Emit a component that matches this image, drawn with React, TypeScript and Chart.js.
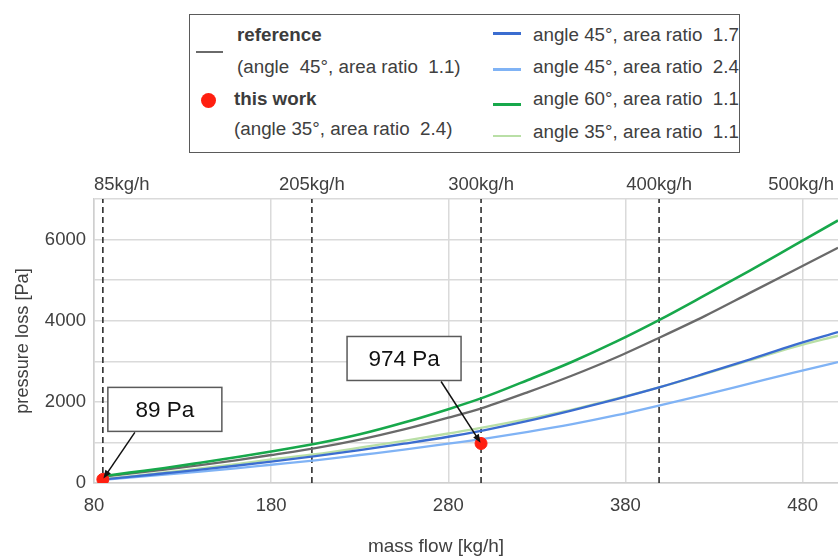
import React, { useEffect, useRef } from 'react';
import { Chart, registerables } from 'chart.js';

Chart.register(...registerables);

// ---------- data ----------
const massFlow = [85, 100, 120, 140, 160, 180, 205, 230, 255, 280, 300, 325, 350, 375, 400, 425, 450, 475, 500];
const referenceLoss = [160, 230, 330, 440, 560, 690, 860, 1070, 1320, 1610, 1860, 2240, 2650, 3100, 3600, 4120, 4680, 5240, 5800];
const angle45ar17 = [85, 150, 240, 330, 425, 525, 660, 810, 970, 1140, 1300, 1530, 1790, 2070, 2370, 2700, 3040, 3400, 3720];
const angle45ar24 = [75, 130, 205, 280, 360, 450, 560, 690, 820, 970, 1090, 1260, 1450, 1670, 1920, 2180, 2450, 2720, 2980];
const angle60ar11 = [165, 255, 370, 500, 635, 775, 965, 1200, 1490, 1820, 2110, 2540, 2990, 3490, 4040, 4630, 5230, 5850, 6470];
const angle35ar11 = [100, 165, 262, 360, 465, 580, 710, 870, 1040, 1220, 1370, 1580, 1810, 2080, 2370, 2690, 3020, 3350, 3630];

const thisWorkFlow = [85, 298.5];
const thisWorkLoss = [89, 974];
const calloutTexts = ['89 Pa', '974 Pa'];

const markerFlows = [85, 203, 298.5, 399];
const topLabelFlows = [85, 203, 298.5, 399, 500];
const topLabels = ['85kg/h', '205kg/h', '300kg/h', '400kg/h', '500kg/h'];

const xTickValues = [80, 180, 280, 380, 480];
const yLabelStep = 2000;

const FONT = "'Liberation Sans', Arial, sans-serif";
const TEXT = '#404040';

const pts = (xs: number[], ys: number[]) => xs.map((x, i) => ({ x, y: ys[i] }));

const overlayPlugin = {
  id: 'overlay',
  afterDatasetsDraw(chart: any) {
    const { ctx, chartArea, scales } = chart;
    const xs = scales.x;
    const ys = scales.y;
    ctx.save();
    // top labels
    ctx.font = `18.5px ${FONT}`;
    ctx.fillStyle = TEXT;
    ctx.textBaseline = 'middle';
    topLabelFlows.forEach((v, i) => {
      const t = topLabels[i];
      const w = ctx.measureText(t).width;
      let x = xs.getPixelForValue(v);
      const maxR = chart.width - 4;
      if (x - w / 2 < chartArea.left) {
        ctx.textAlign = 'left';
        x = chartArea.left;
      } else if (x + w / 2 > maxR) {
        ctx.textAlign = 'right';
        x = maxR;
      } else {
        ctx.textAlign = 'center';
      }
      ctx.fillText(t, x, chartArea.top - 14);
    });
    // callouts
    const cfg = [
      { dx: 5, dy: -92, w: 114, h: 44, ax: 32 },
      { dx: -134, dy: -107, w: 114, h: 44, ax: -40 },
    ];
    thisWorkFlow.forEach((v, i) => {
      const px = xs.getPixelForValue(v);
      const py = ys.getPixelForValue(thisWorkLoss[i]);
      const c = cfg[i];
      const bx = px + c.dx;
      const by = py + c.dy;
      ctx.fillStyle = '#ffffff';
      ctx.fillRect(bx, by, c.w, c.h);
      ctx.strokeStyle = '#5a5a5a';
      ctx.lineWidth = 1.5;
      ctx.strokeRect(bx, by, c.w, c.h);
      ctx.fillStyle = '#111111';
      ctx.font = `22.5px ${FONT}`;
      ctx.textAlign = 'center';
      ctx.textBaseline = 'middle';
      ctx.fillText(calloutTexts[i], bx + c.w / 2, by + c.h / 2 + 1);
      // arrow
      const sx = px + c.ax;
      const sy = by + c.h + 1;
      const ang = Math.atan2(py - sy, px - sx);
      const tx = px - Math.cos(ang) * 1;
      const ty = py - Math.sin(ang) * 1;
      ctx.strokeStyle = '#111111';
      ctx.lineWidth = 1.5;
      ctx.beginPath();
      ctx.moveTo(sx, sy);
      ctx.lineTo(tx - Math.cos(ang) * 6, ty - Math.sin(ang) * 6);
      ctx.stroke();
      const hl = 9;
      const hw = 0.38;
      ctx.fillStyle = '#111111';
      ctx.beginPath();
      ctx.moveTo(tx, ty);
      ctx.lineTo(tx - hl * Math.cos(ang - hw), ty - hl * Math.sin(ang - hw));
      ctx.lineTo(tx - hl * Math.cos(ang + hw), ty - hl * Math.sin(ang + hw));
      ctx.closePath();
      ctx.fill();
    });
    ctx.restore();
  },
};

function ChartView() {
  const ref = useRef<HTMLCanvasElement | null>(null);
  useEffect(() => {
    if (!ref.current) return;
    const line = (label: string, data: number[], color: string, width: number, order: number) => ({
      type: 'line' as const,
      label,
      data: pts(massFlow, data),
      borderColor: color,
      backgroundColor: color,
      borderWidth: width,
      pointRadius: 0,
      cubicInterpolationMode: 'monotone' as const,
      fill: false,
      order,
    });
    const markers = markerFlows.map((v) => ({
      type: 'line' as const,
      label: 'marker',
      data: [{ x: v, y: 0 }, { x: v, y: 7000 }],
      borderColor: '#2e2e2e',
      borderWidth: 1.6,
      borderDash: [6, 4],
      pointRadius: 0,
      fill: false,
      order: 10,
    }));
    const chart = new Chart(ref.current, {
      type: 'line',
      data: {
        datasets: [
          {
            type: 'scatter' as const,
            label: 'this work',
            data: pts(thisWorkFlow, thisWorkLoss),
            backgroundColor: '#ff1f10',
            borderColor: '#ff1f10',
            pointRadius: 6,
            showLine: false,
            order: 0,
          } as any,
          line('angle 60°, area ratio 1.1', angle60ar11, '#17a84b', 2.6, 1),
          line('reference', referenceLoss, '#6a6a6a', 2.3, 2),
          line('angle 45°, area ratio 1.7', angle45ar17, '#3b6dd0', 2.3, 3),
          line('angle 35°, area ratio 1.1', angle35ar11, '#b9dfa6', 2.3, 4),
          line('angle 45°, area ratio 2.4', angle45ar24, '#80b3f5', 2.3, 5),
          ...markers,
        ],
      },
      options: {
        responsive: false,
        animation: false,
        devicePixelRatio: 1,
        layout: { autoPadding: false, padding: { top: 199, right: 0, left: 0, bottom: 0 } },
        plugins: { legend: { display: false }, tooltip: { enabled: false } },
        scales: {
          x: {
            type: 'linear',
            min: 80,
            max: 500,
            afterBuildTicks: (s: any) => {
              s.ticks = xTickValues.map((v) => ({ value: v }));
            },
            afterFit: (s: any) => {
              s.height = 74;
              s.paddingRight = 0;
              s.paddingLeft = 0;
            },
            grid: { color: '#dadada', lineWidth: 1.5, drawTicks: false },
            border: { color: '#cfcfcf', width: 1.5 },
            ticks: {
              font: { family: FONT, size: 18.5 },
              color: TEXT,
              padding: 12,
              maxRotation: 0,
              autoSkip: false,
              callback: (v: any) => String(v),
            },
          },
          y: {
            type: 'linear',
            min: 0,
            max: 7000,
            afterFit: (s: any) => {
              s.width = 94;
            },
            grid: { color: '#dadada', lineWidth: 1.5, drawTicks: false },
            border: { color: '#cfcfcf', width: 1.5 },
            ticks: {
              stepSize: 1000,
              font: { family: FONT, size: 18.5 },
              color: TEXT,
              padding: 8,
              callback: (v: any) => (Number(v) % yLabelStep === 0 ? String(v) : ''),
            },
            title: {
              display: true,
              text: 'pressure loss [Pa]',
              font: { family: FONT, size: 18.2 },
              color: TEXT,
              padding: { top: 12, bottom: 0 },
            },
          },
        },
      },
      plugins: [overlayPlugin],
    } as any);
    return () => chart.destroy();
  }, []);
  return <canvas ref={ref} width={838} height={557} style={{ position: 'absolute', left: 0, top: 0, width: 838, height: 557 }} />;
}

const legendText: React.CSSProperties = {
  position: 'absolute',
  fontFamily: FONT,
  fontSize: 18.8,
  lineHeight: '22px',
  height: 22,
  color: TEXT,
  whiteSpace: 'pre',
};

const rightItems = [
  { text: 'angle 45°, area ratio  1.7', color: '#3b6dd0', lineY: 33.5, textY: 34.5 },
  { text: 'angle 45°, area ratio  2.4', color: '#80b3f5', lineY: 69.5, textY: 67 },
  { text: 'angle 60°, area ratio  1.1', color: '#17a84b', lineY: 104.5, textY: 99 },
  { text: 'angle 35°, area ratio  1.1', color: '#b9dfa6', lineY: 136, textY: 132 },
];

export default function App() {
  return (
    <div style={{ position: 'fixed', left: 0, top: 0, width: 838, height: 557, background: '#fff', overflow: 'hidden' }}>
      <ChartView />
      <div
        style={{
          position: 'absolute',
          left: 189,
          top: 14,
          width: 551,
          height: 139,
          boxSizing: 'border-box',
          border: '1.5px solid #5a5a5a',
          background: '#fff',
        }}
      />
      <div style={{ position: 'absolute', left: 196, top: 50.5, width: 27, height: 2.5, background: '#6a6a6a' }} />
      <div style={{ ...legendText, left: 237, top: 35 - 11, fontWeight: 'bold', color: '#3c3c3c' }}>reference</div>
      <div style={{ ...legendText, left: 237, top: 67 - 11 }}>(angle  45°, area ratio  1.1)</div>
      <div style={{ position: 'absolute', left: 200.5, top: 92.5, width: 15, height: 15, borderRadius: '50%', background: '#ff1f10' }} />
      <div style={{ ...legendText, left: 234, top: 98.5 - 11, fontWeight: 'bold', color: '#3c3c3c' }}>this work</div>
      <div style={{ ...legendText, left: 234, top: 128.5 - 11 }}>(angle 35°, area ratio  2.4)</div>
      {rightItems.map((it) => (
        <React.Fragment key={it.text}>
          <div style={{ position: 'absolute', left: 493, top: it.lineY - 1.25, width: 28, height: 2.5, background: it.color }} />
          <div style={{ ...legendText, left: 533, top: it.textY - 11 }}>{it.text}</div>
        </React.Fragment>
      ))}
      <div
        style={{
          position: 'absolute',
          left: 336,
          width: 200,
          top: 546 - 11,
          textAlign: 'center',
          fontFamily: FONT,
          fontSize: 19,
          lineHeight: '22px',
          color: TEXT,
          whiteSpace: 'pre',
        }}
      >
        mass flow [kg/h]
      </div>
    </div>
  );
}
